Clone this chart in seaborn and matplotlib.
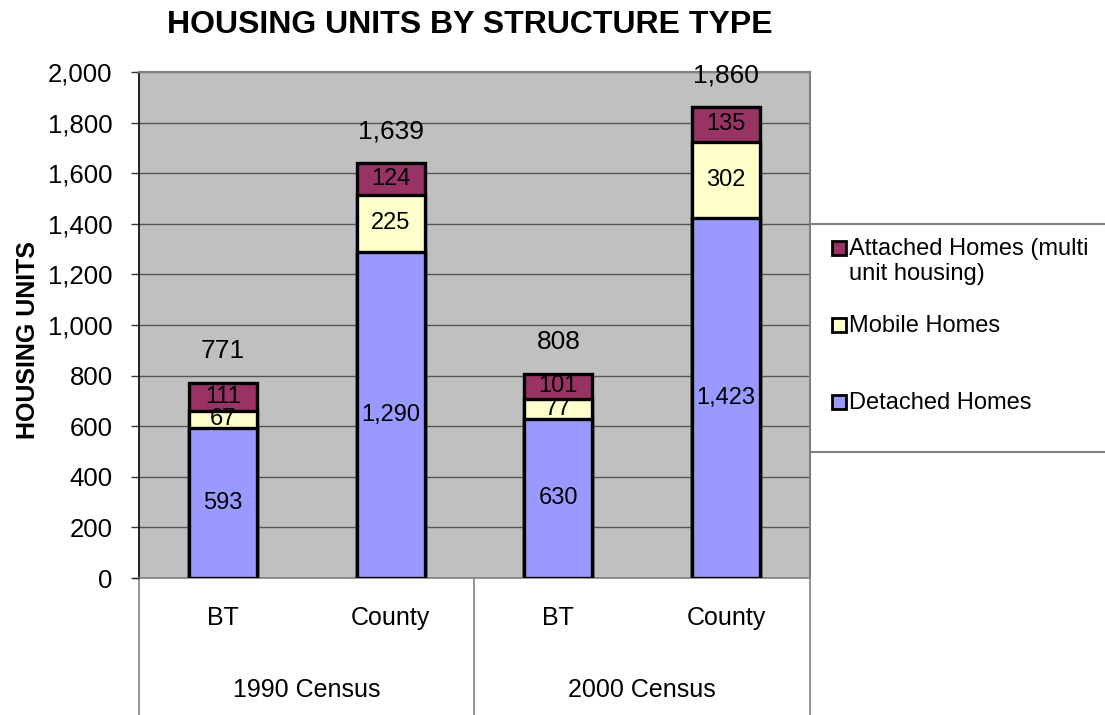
import matplotlib
matplotlib.use("Agg")
import matplotlib.pyplot as plt
import matplotlib.transforms as mtrans
from matplotlib.lines import Line2D
import seaborn as sns
import pandas as pd
import numpy as np

# ---- data ----
censuses = ["1990 Census", "1990 Census", "2000 Census", "2000 Census"]
areas = ["BT", "County", "BT", "County"]
detached = [593, 1290, 630, 1423]
mobile = [67, 225, 77, 302]
attached = [111, 124, 101, 135]
totals = [771, 1639, 808, 1860]
series_names = ["Attached Homes (multi\nunit housing)", "Mobile Homes", "Detached Homes"]
colors = {"Detached": "#9999FF", "Mobile": "#FFFFCC", "Attached": "#993366"}

keys = [f"{c}|{a}" for c, a in zip(censuses, areas)]
df = pd.DataFrame({
    "key": keys,
    "detached": detached,
    "mob_top": np.array(detached) + np.array(mobile),
    "att_top": np.array(detached) + np.array(mobile) + np.array(attached),
})

sns.set_theme(style="white")
plt.rcParams["font.family"] = ["Liberation Sans", "DejaVu Sans"]
plt.rcParams["text.color"] = "black"
plt.rcParams["ytick.color"] = "black"
plt.rcParams["axes.labelcolor"] = "black"

fig = plt.figure(figsize=(11.05, 7.15), dpi=100)
ax = fig.add_axes([139 / 1105, 1 - 578 / 715, (810 - 139) / 1105, (578 - 72) / 715])
ax.set_facecolor("#C0C0C0")

bw = 0.405
common = dict(x="key", order=keys, width=bw, edgecolor="black", linewidth=2.4, ax=ax, zorder=3)
sns.barplot(data=df, y="att_top", color=colors["Attached"], saturation=1, **common)
sns.barplot(data=df, y="mob_top", color=colors["Mobile"], saturation=1, **common)
sns.barplot(data=df, y="detached", color=colors["Detached"], saturation=1, **common)

ax.set_xlim(-0.5, 3.5)
ax.set_ylim(0, 2000)
ax.set_yticks(np.arange(0, 2001, 200))
ax.set_yticklabels([f"{v:,}" for v in range(0, 2001, 200)], fontsize=18.5)
ax.grid(axis="y", color="#555555", linewidth=1.0, zorder=0)
ax.set_axisbelow(True)
ax.tick_params(axis="y", direction="out", length=6, width=1, color="#333333", pad=13, left=True)
ax.set_xticks([])
ax.set_xlabel("")
ax.set_ylabel("")
fig.text(28 / 1105, 1 - 340 / 715, "HOUSING UNITS", rotation=90, ha="center", va="center",
         fontsize=18, fontweight="bold")
for s in ["top", "right"]:
    ax.spines[s].set_color("#808080")
    ax.spines[s].set_linewidth(1.5)
ax.spines["left"].set_color("black")
ax.spines["left"].set_linewidth(1.2)
ax.spines["bottom"].set_color("#808080")
ax.spines["bottom"].set_linewidth(1.2)

# segment labels
for i in range(4):
    d, m, a = detached[i], mobile[i], attached[i]
    ax.text(i, d / 2, f"{d:,}", ha="center", va="center", fontsize=17, zorder=5)
    ax.text(i, d + m / 2, f"{m:,}", ha="center", va="center", fontsize=17, zorder=5)
    ax.text(i, d + m + a / 2, f"{a:,}", ha="center", va="center", fontsize=17, zorder=5)
    ax.annotate(f"{totals[i]:,}", (i, totals[i]), xytext=(0, 23), textcoords="offset points",
                ha="center", va="center", fontsize=19, zorder=5)

# multi-level category axis
trans = mtrans.blended_transform_factory(ax.transData, fig.transFigure)
for i, a in enumerate(areas):
    ax.text(i, 1 - 618 / 715, a, transform=trans, ha="center", va="center", fontsize=18)
groups = sorted(set(censuses))
for g in groups:
    idx = [i for i, c in enumerate(censuses) if c == g]
    ax.text(np.mean(idx), 1 - 690 / 715, g, transform=trans, ha="center", va="center", fontsize=18)
y0 = 1 - 578 / 715
for xv in [-0.5, 1.5, 3.5]:
    fig.add_artist(Line2D([ax.transData.transform((xv, 0))[0] / fig.bbox.width] * 2, [0, y0],
                          color="#808080", linewidth=1.2))
fig.add_artist(Line2D([133 / 1105, 139 / 1105], [y0, y0], color="#333333", linewidth=1))

# legend (manual layout, Excel-like spacing)
fig.add_artist(Line2D([810 / 1105, 1], [1 - 224 / 715] * 2, color="#808080", linewidth=1.5))
fig.add_artist(Line2D([810 / 1105, 1], [1 - 452 / 715] * 2, color="#808080", linewidth=1.5))
leg_y = [248, 325, 402]
for name, key, yy in zip(series_names, ["Attached", "Mobile", "Detached"], leg_y):
    fig.add_artist(Line2D([839 / 1105], [1 - yy / 715], marker="s", linestyle="", markersize=10,
                          markerfacecolor=colors[key], markeredgecolor="black", markeredgewidth=2))
    fig.text(849 / 1105, 1 - (yy - 10) / 715, name, ha="left", va="top", fontsize=17,
             linespacing=1.2)

fig.suptitle("HOUSING UNITS BY STRUCTURE TYPE", x=470 / 1105, y=1 - 25 / 715, va="center",
             fontsize=23, fontweight="bold")

fig.savefig("out.png", dpi=100)
